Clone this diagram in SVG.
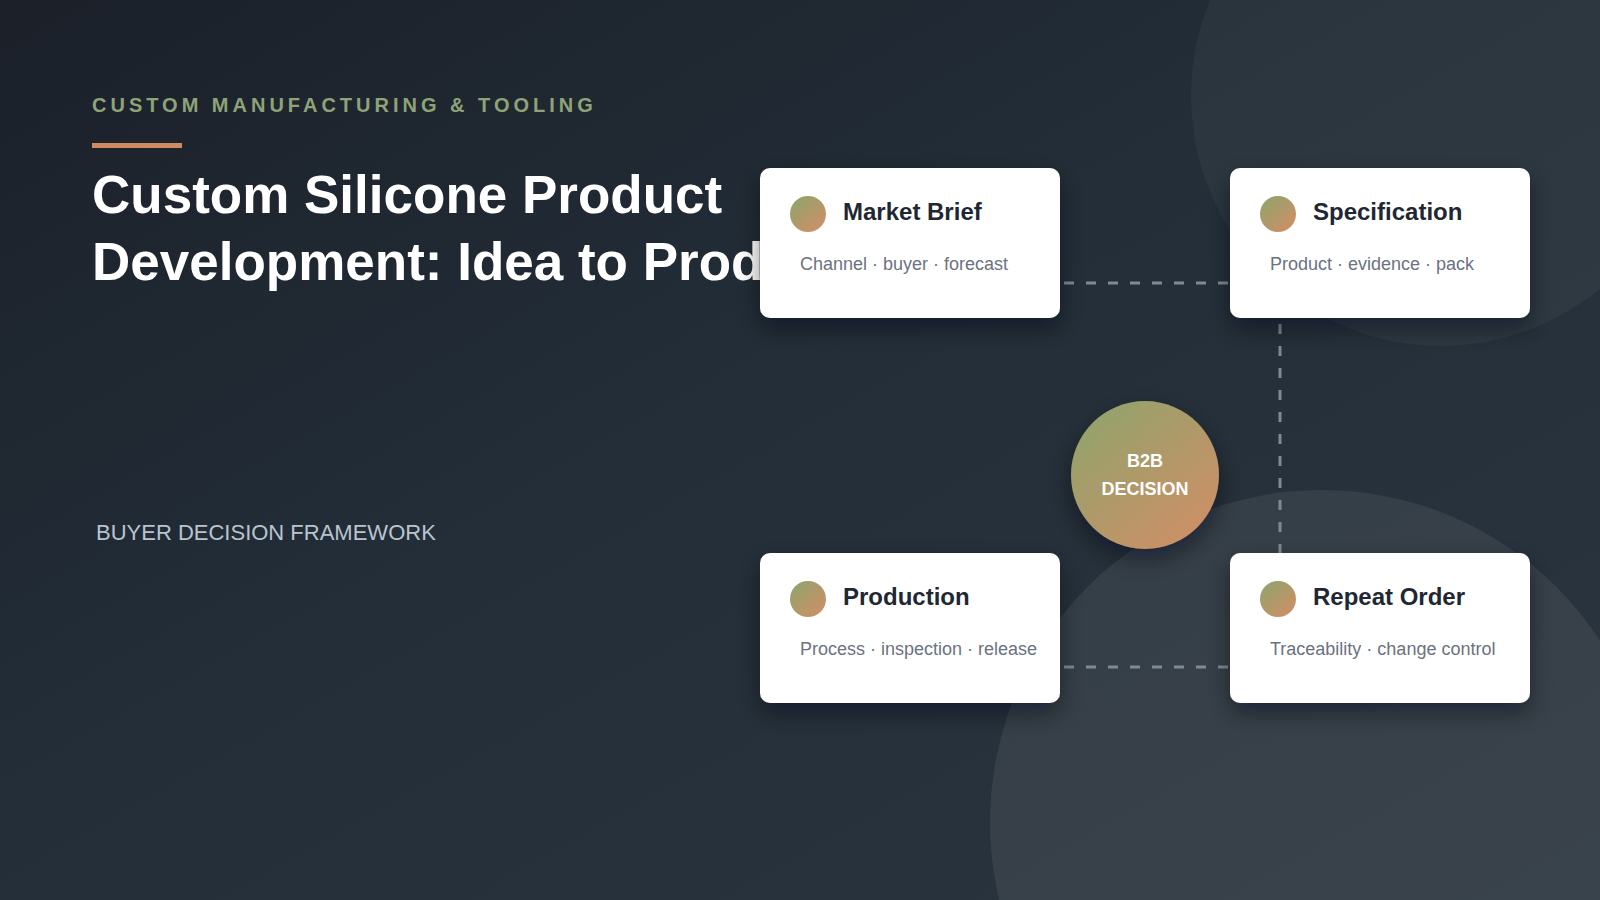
<svg xmlns="http://www.w3.org/2000/svg" width="1600" height="900" viewBox="0 0 1600 900">
  <defs>
    <linearGradient id="bg" x1="0" y1="0" x2="1" y2="1">
      <stop offset="0" stop-color="#1b2029"/>
      <stop offset="0.45" stop-color="#232e38"/>
      <stop offset="1" stop-color="#2b353f"/>
    </linearGradient>
    <linearGradient id="accent" x1="0.15" y1="0.1" x2="0.85" y2="0.9">
      <stop offset="0" stop-color="#95a26c"/>
      <stop offset="1" stop-color="#cc9066"/>
    </linearGradient>
    <filter id="shadow" x="-20%" y="-20%" width="140%" height="160%">
      <feDropShadow dx="0" dy="10" stdDeviation="12" flood-color="#0b0f14" flood-opacity="0.45"/>
    </filter>
    <style>
      .card { fill: #ffffff; }
      .ttl { font-family: "Liberation Sans", Arial, sans-serif; font-weight: 700; font-size: 24px; fill: #1f2733; }
      .sub { font-family: "Liberation Sans", Arial, sans-serif; font-size: 18px; fill: #6b7280; }
      .conn { stroke: #7f8a94; stroke-width: 3; stroke-dasharray: 10 12; fill: none; }
    </style>
  </defs>

  <rect x="0" y="0" width="1600" height="900" fill="url(#bg)"/>
  <circle cx="1441" cy="96" r="250" fill="#ffffff" fill-opacity="0.04"/>
  <circle cx="1322" cy="822" r="332" fill="#ffffff" fill-opacity="0.07"/>

  <g id="header">
    <text x="92" y="112" font-family="Liberation Sans, Arial, sans-serif" font-weight="700" font-size="20" letter-spacing="4" fill="#8ea377">CUSTOM MANUFACTURING &amp; TOOLING</text>
    <rect x="92" y="143" width="90" height="5" fill="#d08a62"/>
    <text font-family="Liberation Sans, Arial, sans-serif" font-weight="700" font-size="53" fill="#ffffff">
      <tspan x="92" y="213">Custom Silicone Product</tspan>
      <tspan x="92" y="280">Development: Idea to Prod</tspan>
    </text>
    <text x="96" y="540" font-family="Liberation Sans, Arial, sans-serif" font-size="22" fill="#b9c4cf">BUYER DECISION FRAMEWORK</text>
  </g>

  <g id="connectors">
    <line class="conn" x1="1064" y1="283" x2="1230" y2="283"/>
    <line class="conn" x1="1064" y1="667" x2="1230" y2="667"/>
    <line class="conn" x1="1280" y1="324" x2="1280" y2="553"/>
  </g>

  <g id="market-brief">
    <rect class="card" x="760" y="168" width="300" height="150" rx="10" filter="url(#shadow)"/>
    <circle cx="808" cy="214" r="18" fill="url(#accent)"/>
    <text class="ttl" x="843" y="220">Market Brief</text>
    <text class="sub" x="800" y="270">Channel · buyer · forecast</text>
  </g>

  <g id="specification">
    <rect class="card" x="1230" y="168" width="300" height="150" rx="10" filter="url(#shadow)"/>
    <circle cx="1278" cy="214" r="18" fill="url(#accent)"/>
    <text class="ttl" x="1313" y="220">Specification</text>
    <text class="sub" x="1270" y="270">Product · evidence · pack</text>
  </g>

  <g id="production">
    <rect class="card" x="760" y="553" width="300" height="150" rx="10" filter="url(#shadow)"/>
    <circle cx="808" cy="599" r="18" fill="url(#accent)"/>
    <text class="ttl" x="843" y="605">Production</text>
    <text class="sub" x="800" y="655">Process · inspection · release</text>
  </g>

  <g id="repeat-order">
    <rect class="card" x="1230" y="553" width="300" height="150" rx="10" filter="url(#shadow)"/>
    <circle cx="1278" cy="599" r="18" fill="url(#accent)"/>
    <text class="ttl" x="1313" y="605">Repeat Order</text>
    <text class="sub" x="1270" y="655">Traceability · change control</text>
  </g>

  <g id="b2b-decision">
    <circle cx="1145" cy="475" r="74" fill="url(#accent)" filter="url(#shadow)"/>
    <text x="1145" y="467" text-anchor="middle" font-family="Liberation Sans, Arial, sans-serif" font-weight="700" font-size="18" fill="#ffffff">B2B</text>
    <text x="1145" y="495" text-anchor="middle" font-family="Liberation Sans, Arial, sans-serif" font-weight="700" font-size="18" fill="#ffffff">DECISION</text>
  </g>
</svg>
